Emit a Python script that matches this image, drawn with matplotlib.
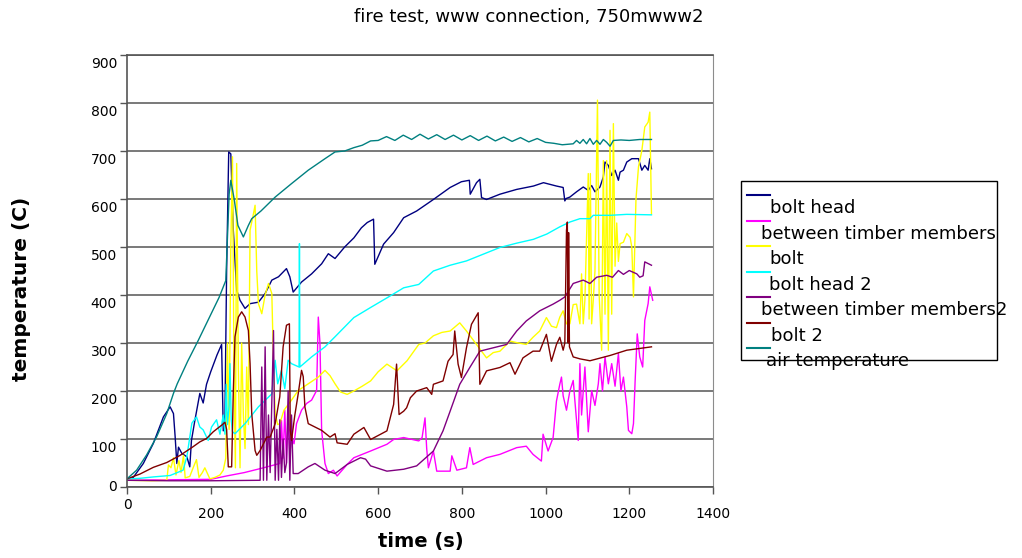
import matplotlib
matplotlib.use("Agg")
import matplotlib.pyplot as plt
import matplotlib.transforms as mtransforms
from matplotlib.lines import Line2D
from matplotlib.patches import Rectangle

# (time s, temperature C)
bolt_head = [(0, 17), (15, 20), (39, 49), (63, 91), (87, 146), (103, 167), (111, 153), (115, 105),
             (119, 49), (123, 83), (131, 70), (143, 63), (150, 42), (154, 97), (162, 138), (174, 195),
             (182, 175), (190, 214), (200, 240), (215, 275), (226, 297), (230, 117), (234, 150),
             (238, 450), (243, 698), (248, 694), (254, 535), (262, 410), (270, 389), (282, 372),
             (294, 382), (314, 385), (330, 403), (346, 431), (362, 438), (381, 455), (389, 438),
             (397, 406), (417, 427), (441, 444), (465, 465), (481, 486), (497, 476), (520, 500),
             (542, 519), (560, 540), (574, 551), (589, 558), (592, 464), (613, 506), (637, 530),
             (661, 561), (692, 575), (732, 599), (772, 624), (799, 636), (818, 639), (820, 610),
             (835, 634), (843, 641), (847, 603), (859, 599), (891, 610), (931, 620), (971, 627),
             (995, 634), (1026, 627), (1042, 624), (1046, 596), (1049, 601), (1058, 604), (1074, 615),
             (1090, 625), (1102, 618), (1110, 628), (1118, 615), (1130, 625), (1138, 646), (1142, 677),
             (1150, 670), (1158, 649), (1166, 660), (1174, 639), (1178, 656), (1186, 660), (1194, 677),
             (1206, 684), (1222, 684), (1230, 660), (1237, 670), (1245, 660), (1249, 684), (1253, 663)]

between_timber = [(0, 14), (100, 15), (200, 16), (238, 23), (280, 30), (326, 40), (365, 49), (369, 139),
                  (373, 60), (377, 160), (381, 50), (385, 150), (389, 70), (393, 104), (399, 90),
                  (405, 132), (417, 160), (429, 174), (441, 181), (453, 201), (457, 354), (461, 300),
                  (465, 118), (473, 49), (481, 28), (493, 35), (502, 23), (526, 47), (542, 61),
                  (582, 75), (621, 89), (637, 99), (661, 103), (697, 96), (705, 103), (712, 144),
                  (716, 80), (720, 40), (732, 75), (740, 33), (772, 33), (776, 65), (788, 35),
                  (811, 40), (819, 82), (827, 47), (859, 61), (891, 68), (931, 82), (954, 85),
                  (970, 68), (990, 54), (994, 110), (1006, 75), (1018, 103), (1026, 179), (1034, 214),
                  (1038, 229), (1042, 190), (1050, 160), (1058, 200), (1066, 222), (1070, 180),
                  (1078, 97), (1082, 257), (1086, 150), (1094, 250), (1102, 115), (1110, 201),
                  (1118, 170), (1126, 215), (1130, 257), (1136, 200), (1142, 271), (1150, 215),
                  (1158, 257), (1166, 210), (1174, 278), (1180, 200), (1186, 229), (1194, 167),
                  (1198, 118), (1206, 111), (1210, 132), (1214, 222), (1219, 319), (1225, 271),
                  (1232, 250), (1237, 347), (1245, 382), (1249, 417), (1256, 389)]

bolt = [(0, 14), (60, 13), (95, 14), (99, 46), (105, 40), (111, 61), (117, 25), (124, 55), (129, 30),
        (135, 66), (139, 19), (150, 22), (158, 40), (166, 57), (172, 20), (180, 30), (186, 40),
        (198, 17), (210, 20), (222, 25), (230, 35), (236, 60), (240, 300), (244, 120), (248, 500),
        (252, 688), (256, 200), (259, 40), (262, 674), (266, 250), (270, 40), (274, 300), (278, 150),
        (282, 80), (286, 250), (290, 130), (294, 535), (300, 560), (306, 587), (310, 450), (314, 382),
        (322, 361), (330, 400), (338, 424), (346, 403), (350, 257), (354, 153), (360, 130), (365, 132),
        (375, 160), (393, 181), (409, 201), (433, 215), (457, 229), (473, 243), (485, 232), (497, 215),
        (510, 198), (526, 193), (542, 200), (562, 210), (582, 221), (600, 240), (621, 256), (645, 242),
        (669, 263), (697, 297), (712, 300), (732, 315), (752, 322), (772, 325), (795, 342), (811, 325),
        (835, 297), (859, 269), (875, 280), (891, 283), (915, 304), (935, 300), (954, 297), (970, 312),
        (986, 325), (1002, 353), (1014, 335), (1026, 332), (1034, 354), (1042, 367), (1050, 340),
        (1058, 340), (1066, 380), (1074, 381), (1082, 340), (1086, 444), (1090, 340), (1094, 390),
        (1102, 653), (1104, 350), (1107, 653), (1110, 340), (1114, 390), (1118, 450), (1124, 806),
        (1128, 400), (1134, 285), (1138, 680), (1142, 360), (1146, 680), (1150, 285), (1154, 743),
        (1158, 360), (1162, 757), (1166, 460), (1170, 550), (1174, 470), (1178, 507), (1186, 510),
        (1194, 528), (1202, 520), (1206, 500), (1210, 396), (1216, 600), (1222, 667), (1230, 701),
        (1237, 750), (1245, 760), (1249, 781), (1253, 569)]

bolt_head_2 = [(0, 17), (30, 18), (63, 21), (103, 24), (134, 35), (143, 63), (155, 133), (166, 146),
               (174, 125), (182, 119), (194, 97), (202, 125), (214, 140), (222, 110), (230, 150),
               (234, 110), (237, 214), (240, 130), (244, 170), (246, 257), (249, 140), (252, 115),
               (258, 111), (282, 132), (314, 167), (346, 194), (354, 264), (360, 215), (369, 243),
               (377, 205), (385, 264), (393, 257), (411, 250), (412, 507), (413, 250), (441, 271),
               (473, 292), (497, 313), (542, 353), (582, 374), (621, 394), (661, 415), (697, 422),
               (732, 450), (772, 462), (811, 471), (851, 485), (891, 499), (931, 508), (971, 516),
               (1003, 527), (1034, 542), (1058, 552), (1082, 559), (1106, 559), (1114, 566),
               (1154, 566), (1194, 568), (1253, 567)]

between_timber_2 = [(0, 14), (100, 13), (200, 13), (318, 14), (322, 250), (326, 14), (330, 292),
                    (334, 14), (338, 150), (342, 30), (350, 326), (354, 14), (358, 120), (362, 14),
                    (365, 140), (369, 20), (373, 100), (377, 30), (381, 50), (385, 200), (389, 14),
                    (393, 150), (397, 28), (409, 28), (433, 42), (449, 49), (473, 35), (497, 28),
                    (526, 47), (558, 61), (570, 58), (582, 44), (621, 33), (661, 37), (692, 44),
                    (732, 75), (755, 117), (772, 158), (795, 214), (819, 249), (843, 283), (875, 290),
                    (907, 297), (931, 325), (954, 346), (986, 367), (1018, 381), (1034, 389),
                    (1046, 396), (1066, 424), (1090, 431), (1106, 424), (1122, 437), (1146, 441),
                    (1160, 437), (1174, 451), (1186, 443), (1200, 451), (1218, 444), (1225, 437),
                    (1233, 440), (1237, 469), (1253, 462)]

bolt_2 = [(0, 17), (31, 27), (63, 41), (95, 51), (127, 66), (158, 84), (174, 94), (190, 101), (206, 115),
          (222, 126), (228, 130), (234, 135), (238, 120), (242, 42), (250, 42), (254, 200), (258, 313),
          (266, 354), (274, 365), (282, 354), (290, 326), (294, 257), (298, 153), (306, 76), (310, 66),
          (318, 76), (326, 90), (334, 104), (342, 104), (354, 132), (365, 188), (373, 292), (381, 337),
          (388, 340), (390, 118), (393, 97), (401, 150), (409, 194), (417, 243), (421, 230), (425, 167),
          (433, 132), (449, 125), (465, 118), (485, 104), (497, 111), (502, 92), (526, 89), (542, 110),
          (566, 124), (582, 99), (606, 110), (621, 117), (637, 172), (644, 256), (650, 151), (661, 158),
          (668, 165), (677, 186), (692, 200), (716, 207), (728, 193), (732, 214), (755, 221), (767, 262),
          (779, 276), (783, 325), (791, 256), (799, 228), (811, 290), (823, 339), (839, 363), (843, 214),
          (859, 242), (891, 249), (915, 259), (927, 235), (946, 269), (970, 283), (986, 283), (1002, 318),
          (1014, 262), (1026, 297), (1034, 312), (1042, 285), (1046, 300), (1050, 535), (1052, 552),
          (1054, 300), (1055, 530), (1057, 292), (1066, 271), (1082, 267), (1106, 263), (1154, 274),
          (1194, 285), (1253, 292)]

air_temp = [(0, 17), (23, 35), (47, 67), (71, 105), (95, 153), (111, 195), (120, 215), (145, 262),
            (170, 305), (195, 350), (220, 395), (236, 430), (240, 520), (244, 610), (248, 639),
            (256, 600), (265, 545), (278, 521), (290, 545), (298, 559), (320, 575), (354, 604),
            (393, 632), (433, 660), (473, 684), (497, 698), (520, 700), (542, 707), (562, 712),
            (582, 721), (600, 722), (620, 730), (640, 722), (660, 733), (680, 724), (700, 735),
            (720, 725), (740, 734), (760, 724), (780, 733), (800, 723), (820, 732), (840, 722),
            (860, 731), (880, 721), (900, 729), (920, 720), (940, 728), (960, 719), (980, 726),
            (1000, 718), (1020, 716), (1040, 713), (1066, 715), (1074, 722), (1082, 716),
            (1090, 724), (1098, 715), (1106, 726), (1114, 714), (1122, 722), (1130, 714),
            (1138, 724), (1146, 718), (1154, 710), (1162, 722), (1180, 723), (1200, 722),
            (1225, 724), (1253, 724)]

series = [bolt_head, between_timber, bolt, bolt_head_2, between_timber_2, bolt_2, air_temp]
labels = ["bolt head", "between timber members", "bolt", "bolt head 2",
          "between timber members2", "bolt 2", "air temperature"]
colors = ["#000080", "#FF00FF", "#FFFF00", "#00FFFF", "#800080", "#800000", "#008080"]

x_ticks = [0, 200, 400, 600, 800, 1000, 1200, 1400]
y_ticks = [0, 100, 200, 300, 400, 500, 600, 700, 800, 900]

W, H = 1022, 558
fig = plt.figure(figsize=(W / 100, H / 100), dpi=100)
ax = fig.add_axes([127 / W, 71 / H, 586 / W, 432 / H])

for data, lab, col in zip(series, labels, colors):
    t = [p[0] for p in data]
    temp = [p[1] for p in data]
    ax.plot(t, temp, color=col, lw=1.0, label=lab)

ax.set_xlim(0, 1400)
ax.set_ylim(0, 900)
ax.set_xticks(x_ticks)
ax.set_yticks(y_ticks)
ax.set_xticklabels([])
ax.set_yticklabels([])
ax.tick_params(direction="out", length=5, width=1, color="#555555")
ax.yaxis.grid(True, color="#6e6e6e", lw=1.3)
ax.set_axisbelow(True)
for side in ["left", "bottom", "top"]:
    ax.spines[side].set_color("#555555")
    ax.spines[side].set_linewidth(1.2)
ax.spines["right"].set_color("#8c8c8c")

# tick labels, Excel style: every label but "0" sits a bit lower
for v in y_ticks:
    dy = 0 if v == 0 else -8.5
    tr = ax.get_yaxis_transform() + mtransforms.ScaledTranslation(-10 / 100, dy / 100, fig.dpi_scale_trans)
    ax.text(0, v, str(v), transform=tr, ha="right", va="center", fontsize=10)
for v in x_ticks:
    dy = -18 if v == 0 else -27
    tr = ax.get_xaxis_transform() + mtransforms.ScaledTranslation(0, dy / 100, fig.dpi_scale_trans)
    ax.text(v, 0, str(v), transform=tr, ha="center", va="center", fontsize=10)

fig.text(529 / W, 1 - 17 / H, "fire test, www connection, 750mwww2", ha="center", va="center", fontsize=13)
fig.text(22 / W, 1 - 289 / H, "temperature (C)", rotation=90, ha="center", va="center",
         fontsize=14.5, fontweight="bold")
fig.text(421 / W, 1 - 542 / H, "time (s)", ha="center", va="center", fontsize=14, fontweight="bold")

# legend box drawn by hand (handles sit above-left of their text)
fig.add_artist(Rectangle((741 / W, 1 - 360 / H), 256 / W, 179 / H, transform=fig.transFigure,
                         fill=False, edgecolor="black", lw=1))
text_x = [770, 761, 769, 769, 761, 771, 766]
for i, (lab, col) in enumerate(zip(labels, colors)):
    ly = 195 + i * 25.5
    fig.add_artist(Line2D([747 / W, 770 / W], [1 - ly / H, 1 - ly / H], transform=fig.transFigure,
                          color=col, lw=1.5))
    fig.text(text_x[i] / W, 1 - (ly + 18.3) / H, lab, fontsize=13, va="baseline", ha="left")

fig.savefig("out.png", dpi=100)
